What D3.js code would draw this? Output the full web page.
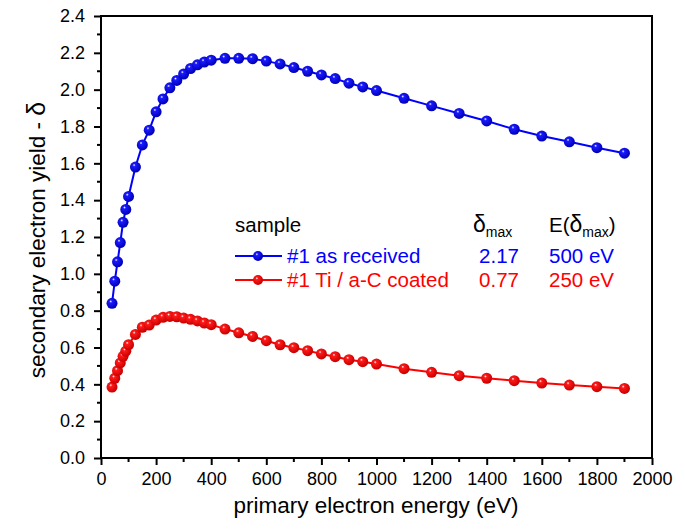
<!DOCTYPE html>
<html>
<head>
<meta charset="utf-8">
<script src="https://cdn.jsdelivr.net/npm/d3@7"></script>
<style>
  body { margin: 0; background: #fff; }
  text { font-family: "Liberation Sans", Arial, sans-serif; }
</style>
</head>
<body>
<div id="chart"></div>
<script>
// primary energies (eV)
var energy = [40, 50, 60, 70, 80, 90, 100, 125, 150, 175, 200, 225, 250, 275, 300, 325, 350, 375, 400,
  450, 500, 550, 600, 650, 700, 750, 800, 850, 900, 950, 1000,
  1100, 1200, 1300, 1400, 1500, 1600, 1700, 1800, 1900];

// #1 as received
var yieldReceived = [0.84, 0.96, 1.065, 1.17, 1.28, 1.35, 1.42, 1.58, 1.70, 1.78, 1.88, 1.95, 2.01, 2.05, 2.085, 2.115, 2.135, 2.15, 2.16,
  2.17, 2.17, 2.168, 2.155, 2.14, 2.12, 2.10, 2.08, 2.06, 2.035, 2.015, 1.995,
  1.953, 1.912, 1.871, 1.83, 1.785, 1.748, 1.717, 1.685, 1.655];

// #1 Ti / a-C coated
var yieldCoated = [0.385, 0.433, 0.474, 0.516, 0.552, 0.58, 0.615, 0.671, 0.71, 0.722, 0.749, 0.764, 0.769, 0.767, 0.76, 0.753, 0.744, 0.733, 0.724,
  0.70, 0.68, 0.66, 0.637, 0.615, 0.599, 0.583, 0.565, 0.55, 0.534, 0.523, 0.51,
  0.485, 0.465, 0.447, 0.433, 0.42, 0.407, 0.396, 0.387, 0.378];

var seriesNames = ['#1 as received', '#1 Ti / a-C coated'];
var seriesColors = ['#0000ff', '#ff0000'];
var deltaMax = ['2.17', '0.77'];
var energyMax = ['500 eV', '250 eV'];

var xTicks = d3.range(0, 2001, 200);
var yTicks = d3.range(0, 2.41, 0.2);

var width = 686, height = 529;
var svg = d3.select('#chart').append('svg')
  .attr('width', width)
  .attr('height', height);

var x = d3.scaleLinear().domain([0, 2000]).range([101, 652]);
var y = d3.scaleLinear().domain([0, 2.4]).range([458, 16]);

// sphere-looking markers
var defs = svg.append('defs');
function sphere(id, mid, dark) {
  var g = defs.append('radialGradient').attr('id', id)
    .attr('cx', '40%').attr('cy', '40%').attr('r', '60%')
    .attr('fx', '38%').attr('fy', '32%');
  g.append('stop').attr('offset', '0%').attr('stop-color', '#ffffff');
  g.append('stop').attr('offset', '22%').attr('stop-color', mid);
  g.append('stop').attr('offset', '100%').attr('stop-color', dark);
}
sphere('ball0', '#1a1aff', '#0000b8');
sphere('ball1', '#ff1a1a', '#c80000');

// minor ticks
var xMinor = d3.range(100, 2000, 200);
var yMinor = d3.range(0.1, 2.4, 0.2);

svg.append('g').selectAll('line').data(xMinor).enter().append('line')
  .attr('x1', d => x(d)).attr('x2', d => x(d))
  .attr('y1', 458).attr('y2', 462)
  .attr('stroke', '#000').attr('stroke-width', 2);

svg.append('g').selectAll('line').data(yMinor).enter().append('line')
  .attr('y1', d => y(d)).attr('y2', d => y(d))
  .attr('x1', 97).attr('x2', 101)
  .attr('stroke', '#000').attr('stroke-width', 2);

// axes
var xAxis = svg.append('g').attr('transform', 'translate(0,458)')
  .call(d3.axisBottom(x).tickValues(xTicks).tickSize(7).tickPadding(7).tickFormat(d3.format('d')));
var yAxis = svg.append('g').attr('transform', 'translate(101,0)')
  .call(d3.axisLeft(y).tickValues(yTicks).tickSize(7).tickPadding(9).tickFormat(d3.format('.1f')));

[xAxis, yAxis].forEach(function (a) {
  a.select('.domain').remove();
  a.selectAll('line').attr('stroke-width', 2);
  a.selectAll('text').style('font-size', '18px').attr('fill', '#000');
});

// frame
svg.append('rect')
  .attr('x', 101).attr('y', 16)
  .attr('width', 652 - 101).attr('height', 458 - 16)
  .attr('fill', 'none').attr('stroke', '#000').attr('stroke-width', 2);

// series
var series = [yieldReceived, yieldCoated];
var line = d3.line().x(d => x(d[0])).y(d => y(d[1]));

series.forEach(function (vals, i) {
  var pts = energy.map((e, j) => [e, vals[j]]);
  svg.append('path')
    .datum(pts)
    .attr('d', line)
    .attr('fill', 'none')
    .attr('stroke', seriesColors[i])
    .attr('stroke-width', 2);
  svg.append('g').selectAll('circle').data(pts).enter().append('circle')
    .attr('cx', d => x(d[0]))
    .attr('cy', d => y(d[1]))
    .attr('r', 5.5)
    .attr('fill', 'url(#ball' + i + ')');
});

// legend
var fs = '20.5px';
var legend = svg.append('g');
legend.append('text').attr('x', 235).attr('y', 232).text('sample').style('font-size', fs);

var dm = legend.append('text').attr('x', 473).attr('y', 232).style('font-size', fs);
dm.append('tspan').text('δ').style('font-size', '23px');
dm.append('tspan').text('max').attr('dy', 5).style('font-size', '14px');

var em = legend.append('text').attr('x', 549).attr('y', 232).style('font-size', fs);
em.append('tspan').text('E(');
em.append('tspan').text('δ').style('font-size', '23px');
em.append('tspan').text('max').attr('dy', 5).style('font-size', '14px');
em.append('tspan').text(')').attr('dy', -5);

seriesNames.forEach(function (name, i) {
  var ly = 256 + i * 24;
  legend.append('line')
    .attr('x1', 235).attr('x2', 282).attr('y1', ly).attr('y2', ly)
    .attr('stroke', seriesColors[i]).attr('stroke-width', 2);
  legend.append('circle')
    .attr('cx', 258).attr('cy', ly).attr('r', 5)
    .attr('fill', 'url(#ball' + i + ')');
  legend.append('text').attr('x', 287).attr('y', ly + 7)
    .text(name).attr('fill', seriesColors[i]).style('font-size', fs);
  legend.append('text').attr('x', 519).attr('y', ly + 7)
    .attr('text-anchor', 'end')
    .text(deltaMax[i]).attr('fill', seriesColors[i]).style('font-size', fs);
  legend.append('text').attr('x', 549).attr('y', ly + 7)
    .text(energyMax[i]).attr('fill', seriesColors[i]).style('font-size', fs);
});

// axis titles
svg.append('text')
  .attr('x', 376).attr('y', 513)
  .attr('text-anchor', 'middle')
  .style('font-size', '22.5px')
  .text('primary electron energy (eV)');

var yt = svg.append('text')
  .attr('transform', 'translate(45,240) rotate(-90)')
  .attr('text-anchor', 'middle')
  .style('font-size', '22.5px');
yt.append('tspan').text('secondary electron yield - ');
yt.append('tspan').text('δ').style('font-size', '25px');
</script>
</body>
</html>
